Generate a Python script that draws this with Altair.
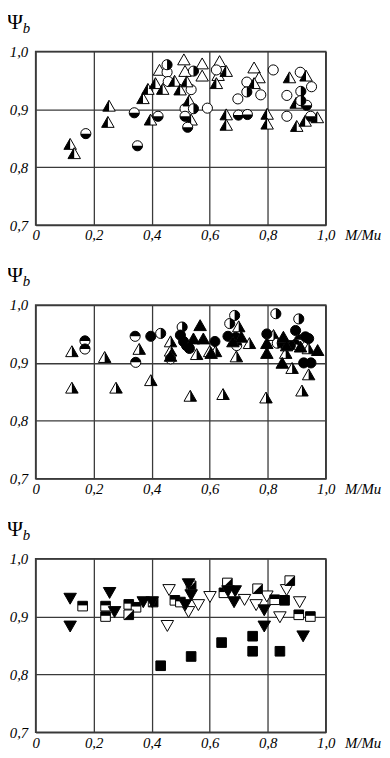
import altair as alt
import pandas as pd

# ---------------- Panel 1 ----------------
p1_tri_lhalf_x = [0.119, 0.133, 0.253, 0.249, 0.370, 0.387, 0.396, 0.413, 0.438, 0.479, 0.498, 0.521, 0.529, 0.536,
                  0.623, 0.657, 0.657, 0.657, 0.753, 0.798, 0.798, 0.875, 0.900, 0.898, 0.932, 0.929, 0.971]
p1_tri_lhalf_y = [0.840, 0.824, 0.906, 0.878, 0.919, 0.935, 0.882, 0.945, 0.935, 0.949, 0.934, 0.948, 0.915, 0.882,
                  0.945, 0.966, 0.891, 0.873, 0.945, 0.892, 0.875, 0.955, 0.871, 0.911, 0.958, 0.880, 0.886]
p1_tri_open_x = [0.427, 0.511, 0.515, 0.574, 0.574, 0.634, 0.629, 0.753, 0.770]
p1_tri_open_y = [0.968, 0.986, 0.966, 0.979, 0.958, 0.983, 0.959, 0.972, 0.955]
p1_circ_open_x = [0.453, 0.457, 0.536, 0.515, 0.592, 0.623, 0.697, 0.728, 0.776, 0.819, 0.866, 0.866, 0.912, 0.951]
p1_circ_open_y = [0.964, 0.948, 0.934, 0.901, 0.902, 0.968, 0.918, 0.947, 0.925, 0.968, 0.924, 0.888, 0.964, 0.939]
p1_circ_bot_x = [0.173, 0.340, 0.351, 0.422, 0.515, 0.524, 0.699, 0.730, 0.934, 0.948]
p1_circ_bot_y = [0.858, 0.894, 0.837, 0.888, 0.888, 0.869, 0.890, 0.891, 0.907, 0.888]
p1_circ_right_x = [0.453, 0.544, 0.544, 0.728, 0.914, 0.914]
p1_circ_right_y = [0.977, 0.966, 0.901, 0.930, 0.931, 0.915]

# ---------------- Panel 2 ----------------
p2_tri_rhalf_x = [0.125, 0.125, 0.238, 0.277, 0.357, 0.397, 0.465, 0.465, 0.555, 0.600, 0.620, 0.700, 0.737, 0.692,
                  0.533, 0.646, 0.794, 0.820, 0.862, 0.884, 0.941, 0.918, 0.940]
p2_tri_rhalf_y = [0.920, 0.857, 0.910, 0.857, 0.924, 0.870, 0.937, 0.921, 0.915, 0.920, 0.920, 0.963, 0.934, 0.911,
                  0.843, 0.846, 0.840, 0.948, 0.917, 0.891, 0.880, 0.852, 0.925]
p2_tri_full_x = [0.465, 0.567, 0.544, 0.578, 0.605, 0.680, 0.709, 0.797, 0.797, 0.854, 0.850, 0.913, 0.972, 0.865]
p2_tri_full_y = [0.912, 0.965, 0.942, 0.942, 0.917, 0.937, 0.945, 0.934, 0.917, 0.945, 0.900, 0.928, 0.922, 0.930]
p2_circ_full_x = [0.397, 0.499, 0.510, 0.520, 0.530, 0.618, 0.663, 0.690, 0.797, 0.896, 0.930, 0.941, 0.924, 0.949,
                  0.850, 0.878]
p2_circ_full_y = [0.946, 0.948, 0.937, 0.930, 0.925, 0.937, 0.946, 0.944, 0.950, 0.956, 0.945, 0.942, 0.900, 0.900,
                  0.934, 0.930]
p2_circ_right_x = [0.431, 0.505, 0.669, 0.686, 0.828, 0.907, 0.833]
p2_circ_right_y = [0.951, 0.962, 0.968, 0.982, 0.985, 0.976, 0.934]
p2_circ_top_x = [0.170, 0.170, 0.343, 0.345, 0.465, 0.693, 0.896, 0.910]
p2_circ_top_y = [0.938, 0.924, 0.946, 0.901, 0.907, 0.930, 0.932, 0.940]

# ---------------- Panel 3 ----------------
p3_dtri_full_x = [0.119, 0.119, 0.255, 0.272, 0.371, 0.402, 0.527, 0.536, 0.516, 0.663, 0.688, 0.684, 0.788, 0.788,
                  0.922]
p3_dtri_full_y = [0.931, 0.883, 0.941, 0.908, 0.925, 0.925, 0.956, 0.937, 0.920, 0.944, 0.944, 0.925, 0.911, 0.883,
                  0.866]
p3_dtri_open_x = [0.454, 0.460, 0.527, 0.561, 0.601, 0.720, 0.760, 0.797, 0.842, 0.865, 0.910]
p3_dtri_open_y = [0.884, 0.946, 0.908, 0.920, 0.934, 0.929, 0.920, 0.935, 0.899, 0.946, 0.925]
p3_sq_full_x = [0.431, 0.536, 0.641, 0.748, 0.748, 0.842, 0.858]
p3_sq_full_y = [0.815, 0.831, 0.855, 0.866, 0.840, 0.840, 0.928]
p3_sq_diag_x = [0.321, 0.405, 0.536, 0.661, 0.765, 0.876]
p3_sq_diag_y = [0.903, 0.925, 0.953, 0.958, 0.948, 0.962]
p3_sq_top_x = [0.162, 0.241, 0.241, 0.321, 0.346, 0.480, 0.499, 0.649, 0.824, 0.907, 0.947]
p3_sq_top_y = [0.918, 0.918, 0.900, 0.921, 0.916, 0.928, 0.925, 0.941, 0.929, 0.903, 0.900]

x_ticks = [0, 0.2, 0.4, 0.6, 0.8, 1.0]
y_ticks = [0.7, 0.8, 0.9, 1.0]

# ---------------- styling ----------------
FONT = "'Liberation Serif', 'DejaVu Serif', serif"
GRID = "#3a3a3a"
W, H = 294, 176

TRI = "M0,-0.9L1,0.85L-1,0.85Z"
TRI_L = "M0,-0.9L0,0.85L-1,0.85Z"
TRI_R = "M0,-0.9L1,0.85L0,0.85Z"
DTRI = "M0,0.9L1,-0.85L-1,-0.85Z"
CIRC = "circle"
CIRC_BOT = "M-1,0A1,1,0,0,0,1,0Z"
CIRC_TOP = "M-1,0A1,1,0,0,1,1,0Z"
CIRC_RIGHT = "M0,-1A1,1,0,0,1,0,1Z"
SQ = "M-1,-1L1,-1L1,1L-1,1Z"
SQ_DIAG = "M1,-1L1,1L-1,1Z"
SQ_TOP = "M-1,-1L1,-1L1,-0.15L-1,-0.15Z"

label_expr = "datum.value == 0 ? '0' : replace(format(datum.value, '.1f'), '.', ',')"

x_scale = alt.Scale(domain=[0, 1], nice=False, zero=False)
y_scale = alt.Scale(domain=[0.7, 1.0], nice=False, zero=False)

x_axis = alt.Axis(values=x_ticks, labelExpr=label_expr, grid=True, gridColor=GRID, gridWidth=1.3,
                  gridOpacity=1, domain=False, ticks=False, labelFont=FONT, labelFontStyle="italic",
                  labelFontSize=15, labelColor="black", labelPadding=3, labelFlush=False,
                  labelOverlap=False, title="M/Mu", titleFont=FONT, titleFontStyle="italic",
                  titleFontWeight="normal", titleFontSize=15, titleColor="black", titleX=313,
                  titleY=3, titleAlign="left", titleBaseline="top")
y_axis = alt.Axis(values=y_ticks, labelExpr=label_expr, grid=True, gridColor=GRID, gridWidth=1.3,
                  gridOpacity=1, domain=False, ticks=False, labelFont=FONT, labelFontStyle="italic",
                  labelFontSize=15, labelColor="black", labelPadding=8, labelFlush=False,
                  labelOverlap=False, title=None)


def kind_layers(xs, ys, base, fill, size):
    df = pd.DataFrame({"x": xs, "y": ys})
    enc = dict(x=alt.X("x:Q", scale=x_scale, axis=x_axis),
               y=alt.Y("y:Q", scale=y_scale, axis=y_axis))
    out = [alt.Chart(df).mark_point(shape=base, filled=True, fill="white", stroke="black",
                                    strokeWidth=1, size=size, opacity=1).encode(**enc)]
    if fill:
        out.append(alt.Chart(df).mark_point(shape=fill, filled=True, fill="black", strokeWidth=0,
                                            size=size, opacity=1).encode(**enc))
    return out


def psi_layers():
    psi = alt.Chart(pd.DataFrame({"t": ["Ψ"]})).mark_text(
        align="left", baseline="alphabetic", font=FONT, fontSize=22, color="black"
    ).encode(text="t:N", x=alt.value(-29), y=alt.value(-23))
    sub = alt.Chart(pd.DataFrame({"t": ["b"]})).mark_text(
        align="left", baseline="alphabetic", font=FONT, fontSize=15, fontStyle="italic", color="black"
    ).encode(text="t:N", x=alt.value(-13), y=alt.value(-19))
    return [psi, sub]


TS, CS, SS = 160, 105, 95

panel1 = alt.layer(
    *kind_layers(p1_tri_open_x, p1_tri_open_y, TRI, None, TS),
    *kind_layers(p1_circ_open_x, p1_circ_open_y, CIRC, None, CS),
    *kind_layers(p1_tri_lhalf_x, p1_tri_lhalf_y, TRI, TRI_L, TS),
    *kind_layers(p1_circ_bot_x, p1_circ_bot_y, CIRC, CIRC_BOT, CS),
    *kind_layers(p1_circ_right_x, p1_circ_right_y, CIRC, CIRC_RIGHT, CS),
    *psi_layers(),
).properties(width=W, height=H)

panel2 = alt.layer(
    *kind_layers(p2_tri_rhalf_x, p2_tri_rhalf_y, TRI, TRI_R, TS),
    *kind_layers(p2_circ_top_x, p2_circ_top_y, CIRC, CIRC_TOP, CS),
    *kind_layers(p2_circ_right_x, p2_circ_right_y, CIRC, CIRC_RIGHT, CS),
    *kind_layers(p2_circ_full_x, p2_circ_full_y, CIRC, CIRC, CS),
    *kind_layers(p2_tri_full_x, p2_tri_full_y, TRI, TRI, TS),
    *psi_layers(),
).properties(width=W, height=H)

panel3 = alt.layer(
    *kind_layers(p3_dtri_open_x, p3_dtri_open_y, DTRI, None, TS),
    *kind_layers(p3_sq_top_x, p3_sq_top_y, SQ, SQ_TOP, SS),
    *kind_layers(p3_sq_diag_x, p3_sq_diag_y, SQ, SQ_DIAG, SS),
    *kind_layers(p3_sq_full_x, p3_sq_full_y, SQ, SQ, SS),
    *kind_layers(p3_dtri_full_x, p3_dtri_full_y, DTRI, DTRI, TS),
    *psi_layers(),
).properties(width=W, height=H)

chart = alt.vconcat(panel1, panel2, panel3, spacing=20).properties(
    padding={"top": -3, "left": -2, "right": 0, "bottom": 0}, background="white"
).configure_view(stroke=GRID, strokeWidth=1.5)

chart.save("out.html", embed_options={"renderer": "svg", "actions": False})
